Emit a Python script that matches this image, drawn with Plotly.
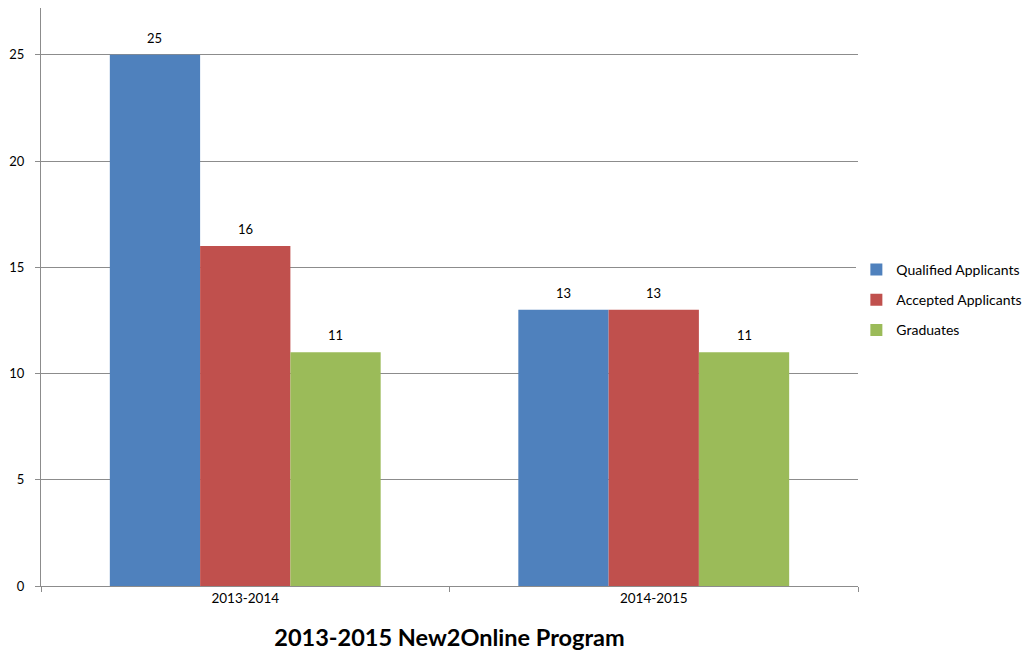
import plotly.graph_objects as go

categories = ["2013-2014", "2014-2015"]
qualified = [25, 13]
accepted = [16, 13]
graduates = [11, 11]
series_names = ["Qualified Applicants", "Accepted Applicants", "Graduates"]
colors = ["#4F81BD", "#C0504D", "#9BBB59"]
y_ticks = [0, 5, 10, 15, 20, 25]

FONT = "Lato, 'Open Sans', sans-serif"
BAR_PX = 90.4  # pixel width of a single bar within a group (style)

fig = go.Figure()
all_series = [qualified, accepted, graduates]
for name, vals, col in zip(series_names, all_series, colors):
    fig.add_trace(go.Bar(
        x=categories, y=vals, name=name, legendgroup=name,
        marker_color=col, marker_line_width=0,
    ))

annotations = []
for i, vals in enumerate(all_series):
    shift = (i - 1) * BAR_PX
    for c, v in zip(categories, vals):
        annotations.append(dict(
            x=c, y=v, xref="x", yref="y", text=str(v), showarrow=False,
            yanchor="bottom", xanchor="center", xshift=shift, yshift=7,
            font=dict(size=13, color="black", family=FONT),
        ))

fig.update_layout(
    width=1034, height=656,
    margin=dict(l=33, r=184, t=0, b=78, autoexpand=False),
    paper_bgcolor="white", plot_bgcolor="white",
    barmode="group", bargap=0.337, bargroupgap=0,
    font=dict(family=FONT, size=12, color="black"),
    legend=dict(x=0.998, y=0.495, yanchor="middle", xanchor="left",
                font=dict(size=14, family=FONT), tracegroupgap=9,
                traceorder="grouped", itemwidth=30),
    showlegend=True,
    annotations=annotations,
)
fig.update_xaxes(
    type="category", tickson="boundaries", ticks="outside", ticklen=5,
    tickcolor="#8c8c8c", showline=True, linecolor="#8c8c8c", linewidth=1,
    showgrid=False, tickfont=dict(size=13.5, family=FONT),
    title=dict(text="<b>2013-2015 New2Online Program</b>", font=dict(size=23.5, family=FONT), standoff=24),
)
fig.update_yaxes(
    range=[0, 27.2], tickvals=y_ticks, ticks="outside", ticklen=5,
    tickcolor="#8c8c8c", showline=True, linecolor="#8c8c8c", linewidth=1,
    showgrid=True, gridcolor="#8c8c8c", gridwidth=1, zeroline=False,
    tickfont=dict(size=13, family=FONT), ticklabelstandoff=8,
)
fig.write_html("out.html")
